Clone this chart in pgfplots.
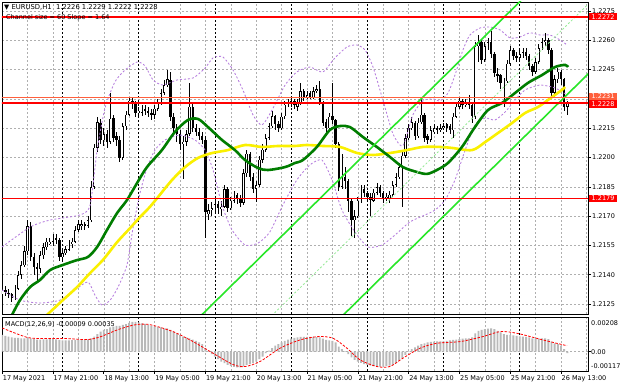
\documentclass[border=0pt]{standalone}
\usepackage{fontspec}
\setmainfont{DejaVu Sans}
\usepackage{pgfplots}
\usepackage{pgfplotstable}
\pgfplotsset{compat=1.18}
\definecolor{lnred}{RGB}{255,0,0}
\definecolor{lnorange}{RGB}{255,95,60}
\definecolor{madark}{RGB}{0,125,0}
\definecolor{mayellow}{RGB}{250,240,0}
\definecolor{chlime}{RGB}{40,230,40}
\definecolor{chmid}{RGB}{150,235,150}
\definecolor{bandv}{RGB}{182,125,222}
\definecolor{histg}{RGB}{185,185,185}
\definecolor{gridg}{RGB}{175,175,175}
\newcommand\lbl{\fontsize{6.5}{7}\selectfont}
\newcommand\ttl{\fontsize{6.8}{7.5}\selectfont}

\pgfplotstableread{
i o h l c
0 1.2130 1.2135 1.2128 1.2132
1 1.2132 1.2134 1.2129 1.2131
2 1.2131 1.2133 1.2128 1.2130
3 1.2130 1.2131 1.2126 1.2128
4 1.2128 1.2135 1.2127 1.2133
5 1.2133 1.2142 1.2132 1.2140
6 1.2140 1.2147 1.2138 1.2145
7 1.2145 1.2155 1.2144 1.2152
8 1.2152 1.2168 1.2150 1.2165
9 1.2165 1.2167 1.2147 1.2149
10 1.2149 1.2151 1.2140 1.2144
11 1.2144 1.2146 1.2137 1.2143
12 1.2143 1.2152 1.2141 1.2150
13 1.2150 1.2156 1.2148 1.2154
14 1.2154 1.2159 1.2153 1.2157
15 1.2156 1.2159 1.2155 1.2157
16 1.2157 1.2161 1.2155 1.2159
17 1.2159 1.2161 1.2156 1.2158
18 1.2158 1.2159 1.2147 1.2149
19 1.2149 1.2153 1.2147 1.2151
20 1.2151 1.2155 1.2150 1.2153
21 1.2153 1.2158 1.2152 1.2156
22 1.2156 1.2159 1.2154 1.2157
23 1.2157 1.2165 1.2156 1.2163
24 1.2163 1.2168 1.2162 1.2166
25 1.2165 1.2168 1.2163 1.2166
26 1.2166 1.2167 1.2163 1.2165
27 1.2165 1.2170 1.2164 1.2168
28 1.2168 1.2188 1.2167 1.2185
29 1.2185 1.2207 1.2184 1.2205
30 1.2205 1.2221 1.2203 1.2218
31 1.2218 1.2220 1.2207 1.2209
32 1.2209 1.2215 1.2206 1.2212
33 1.2212 1.2214 1.2205 1.2208
34 1.2208 1.2233 1.2207 1.2220
35 1.2220 1.2222 1.2208 1.2210
36 1.2211 1.2213 1.2206 1.2209
37 1.2209 1.2211 1.2198 1.2200
38 1.2200 1.2218 1.2199 1.2216
39 1.2216 1.2224 1.2214 1.2222
40 1.2222 1.2231 1.2221 1.2229
41 1.2229 1.2231 1.2225 1.2228
42 1.2228 1.2229 1.2221 1.2223
43 1.2223 1.2226 1.2221 1.2224
44 1.2223 1.2227 1.2221 1.2225
45 1.2225 1.2227 1.2222 1.2224
46 1.2224 1.2226 1.2221 1.2223
47 1.2223 1.2225 1.2219 1.2222
48 1.2222 1.2227 1.2220 1.2225
49 1.2225 1.2230 1.2224 1.2228
50 1.2228 1.2235 1.2227 1.2233
51 1.2233 1.2240 1.2232 1.2237
52 1.2237 1.2245 1.2236 1.2240
53 1.2240 1.2244 1.2219 1.2221
54 1.2221 1.2223 1.2213 1.2215
55 1.2215 1.2217 1.2208 1.2212
56 1.2212 1.2214 1.2204 1.2207
57 1.2207 1.2211 1.2189 1.2208
58 1.2208 1.2214 1.2206 1.2212
59 1.2212 1.2238 1.2211 1.2226
60 1.2226 1.2228 1.2213 1.2215
61 1.2215 1.2217 1.2211 1.2213
62 1.2213 1.2215 1.2209 1.2211
63 1.2211 1.2213 1.2207 1.2209
64 1.2209 1.2211 1.2159 1.2172
65 1.2171 1.2176 1.2168 1.2173
66 1.2173 1.2177 1.2170 1.2174
67 1.2174 1.2179 1.2172 1.2176
68 1.2176 1.2178 1.2171 1.2174
69 1.2174 1.2178 1.2170 1.2175
70 1.2175 1.2186 1.2174 1.2184
71 1.2184 1.2185 1.2172 1.2174
72 1.2174 1.2180 1.2173 1.2178
73 1.2178 1.2183 1.2177 1.2181
74 1.2181 1.2182 1.2176 1.2179
75 1.2179 1.2181 1.2175 1.2177
76 1.2177 1.2194 1.2176 1.2192
77 1.2192 1.2204 1.2190 1.2202
78 1.2202 1.2203 1.2188 1.2190
79 1.2190 1.2192 1.2182 1.2184
80 1.2184 1.2188 1.2177 1.2186
81 1.2186 1.2201 1.2185 1.2199
82 1.2199 1.2207 1.2197 1.2204
83 1.2204 1.2212 1.2203 1.2210
84 1.2210 1.2218 1.2209 1.2216
85 1.2216 1.2224 1.2215 1.2221
86 1.2221 1.2222 1.2214 1.2217
87 1.2217 1.2219 1.2213 1.2215
88 1.2215 1.2223 1.2214 1.2221
89 1.2221 1.2229 1.2220 1.2227
90 1.2227 1.2230 1.2226 1.2228
91 1.2228 1.2231 1.2226 1.2229
92 1.2229 1.2230 1.2225 1.2227
93 1.2226 1.2230 1.2224 1.2228
94 1.2228 1.2238 1.2227 1.2234
95 1.2234 1.2235 1.2229 1.2231
96 1.2231 1.2234 1.2230 1.2232
97 1.2233 1.2234 1.2230 1.2231
98 1.2231 1.2236 1.2230 1.2234
99 1.2234 1.2237 1.2233 1.2235
100 1.2235 1.2239 1.2227 1.2228
101 1.2228 1.2229 1.2216 1.2218
102 1.2218 1.2220 1.2212 1.2215
103 1.2215 1.2223 1.2214 1.2221
104 1.2221 1.2238 1.2217 1.2219
105 1.2219 1.2220 1.2205 1.2207
106 1.2207 1.2208 1.2183 1.2185
107 1.2185 1.2202 1.2184 1.2190
108 1.2190 1.2195 1.2184 1.2188
109 1.2188 1.2189 1.2172 1.2178
110 1.2178 1.2179 1.2160 1.2168
111 1.2168 1.2173 1.2159 1.2170
112 1.2170 1.2180 1.2169 1.2178
113 1.2178 1.2186 1.2177 1.2184
114 1.2184 1.2186 1.2180 1.2182
115 1.2182 1.2183 1.2178 1.2180
116 1.2180 1.2182 1.2170 1.2178
117 1.2178 1.2184 1.2177 1.2182
118 1.2182 1.2187 1.2181 1.2185
119 1.2185 1.2186 1.2180 1.2182
120 1.2182 1.2183 1.2177 1.2179
121 1.2179 1.2182 1.2178 1.2180
122 1.2179 1.2183 1.2177 1.2181
123 1.2181 1.2188 1.2180 1.2186
124 1.2186 1.2192 1.2185 1.2190
125 1.2190 1.2197 1.2189 1.2195
126 1.2195 1.2203 1.2175 1.2201
127 1.2201 1.2212 1.2200 1.2210
128 1.2210 1.2217 1.2209 1.2215
129 1.2215 1.2221 1.2214 1.2218
130 1.2218 1.2219 1.2209 1.2211
131 1.2211 1.2220 1.2210 1.2218
132 1.2218 1.2230 1.2217 1.2222
133 1.2222 1.2223 1.2208 1.2210
134 1.2211 1.2212 1.2207 1.2209
135 1.2209 1.2216 1.2208 1.2214
136 1.2213 1.2217 1.2212 1.2215
137 1.2215 1.2216 1.2212 1.2214
138 1.2214 1.2217 1.2213 1.2215
139 1.2215 1.2218 1.2214 1.2216
140 1.2217 1.2218 1.2213 1.2215
141 1.2216 1.2217 1.2212 1.2214
142 1.2214 1.2223 1.2210 1.2221
143 1.2221 1.2228 1.2220 1.2226
144 1.2226 1.2231 1.2225 1.2229
145 1.2229 1.2230 1.2225 1.2227
146 1.2227 1.2230 1.2226 1.2228
147 1.2228 1.2232 1.2225 1.2227
148 1.2227 1.2228 1.2218 1.2221
149 1.2221 1.2259 1.2220 1.2257
150 1.2257 1.2263 1.2249 1.2259
151 1.2259 1.2260 1.2248 1.2250
152 1.2250 1.2259 1.2249 1.2257
153 1.2257 1.2261 1.2255 1.2259
154 1.2259 1.2265 1.2251 1.2253
155 1.2253 1.2254 1.2241 1.2243
156 1.2243 1.2246 1.2239 1.2242
157 1.2242 1.2243 1.2235 1.2238
158 1.2237 1.2241 1.2226 1.2239
159 1.2239 1.2250 1.2238 1.2248
160 1.2248 1.2257 1.2247 1.2255
161 1.2255 1.2256 1.2250 1.2252
162 1.2252 1.2254 1.2249 1.2251
163 1.2251 1.2255 1.2250 1.2253
164 1.2253 1.2256 1.2251 1.2254
165 1.2254 1.2256 1.2250 1.2252
166 1.2252 1.2253 1.2245 1.2247
167 1.2247 1.2248 1.2242 1.2244
168 1.2244 1.2251 1.2243 1.2249
169 1.2249 1.2258 1.2248 1.2256
170 1.2256 1.2261 1.2255 1.2259
171 1.2259 1.2264 1.2257 1.2260
172 1.2260 1.2261 1.2253 1.2255
173 1.2255 1.2256 1.2231 1.2233
174 1.2233 1.2242 1.2231 1.2240
175 1.2240 1.2246 1.2238 1.2244
176 1.2244 1.2245 1.2237 1.2240
177 1.2240 1.2241 1.2224 1.2226
178 1.2226 1.2229 1.2222 1.2228
}\candles

\pgfplotstableread{
i v
0 0.00100
1 0.00095
2 0.00090
3 0.00086
4 0.00083
5 0.00082
6 0.00080
7 0.00080
8 0.00082
9 0.00080
10 0.00076
11 0.00072
12 0.00072
13 0.00073
14 0.00074
15 0.00075
16 0.00075
17 0.00074
18 0.00070
19 0.00068
20 0.00068
21 0.00068
22 0.00069
23 0.00070
24 0.00072
25 0.00072
26 0.00072
27 0.00073
28 0.00080
29 0.00090
30 0.00105
31 0.00120
32 0.00130
33 0.00135
34 0.00145
35 0.00150
36 0.00155
37 0.00155
38 0.00160
39 0.00165
40 0.00172
41 0.00178
42 0.00178
43 0.00175
44 0.00170
45 0.00166
46 0.00160
47 0.00155
48 0.00150
49 0.00148
50 0.00145
51 0.00140
52 0.00140
53 0.00130
54 0.00120
55 0.00110
56 0.00100
57 0.00090
58 0.00085
59 0.00080
60 0.00072
61 0.00065
62 0.00055
63 0.00045
64 0.00020
65 0.00002
66 -0.00015
67 -0.00030
68 -0.00045
69 -0.00060
70 -0.00070
71 -0.00080
72 -0.00088
73 -0.00092
74 -0.00095
75 -0.00095
76 -0.00090
77 -0.00080
78 -0.00075
79 -0.00070
80 -0.00060
81 -0.00045
82 -0.00030
83 -0.00010
84 0.00005
85 0.00020
86 0.00035
87 0.00045
88 0.00055
89 0.00065
90 0.00072
91 0.00078
92 0.00082
93 0.00085
94 0.00088
95 0.00088
96 0.00088
97 0.00088
98 0.00088
99 0.00087
100 0.00085
101 0.00078
102 0.00070
103 0.00068
104 0.00065
105 0.00055
106 0.00030
107 0.00015
108 0.00002
109 -0.00015
110 -0.00035
111 -0.00050
112 -0.00060
113 -0.00068
114 -0.00075
115 -0.00080
116 -0.00085
117 -0.00088
118 -0.00090
119 -0.00090
120 -0.00090
121 -0.00088
122 -0.00085
123 -0.00080
124 -0.00070
125 -0.00055
126 -0.00040
127 -0.00020
128 0.00002
129 0.00015
130 0.00025
131 0.00035
132 0.00045
133 0.00050
134 0.00055
135 0.00058
136 0.00060
137 0.00062
138 0.00062
139 0.00063
140 0.00065
141 0.00068
142 0.00070
143 0.00072
144 0.00075
145 0.00078
146 0.00080
147 0.00080
148 0.00085
149 0.00110
150 0.00125
151 0.00130
152 0.00135
153 0.00138
154 0.00140
155 0.00135
156 0.00125
157 0.00115
158 0.00105
159 0.00100
160 0.00100
161 0.00098
162 0.00095
163 0.00092
164 0.00090
165 0.00088
166 0.00085
167 0.00080
168 0.00078
169 0.00078
170 0.00080
171 0.00080
172 0.00075
173 0.00060
174 0.00050
175 0.00045
176 0.00035
177 0.00015
178 -0.00009
}\macdhist

\begin{document}
\begin{tikzpicture}
\useasboundingbox (0,0) rectangle (620pt,388pt);
\fill[white] (0,0) rectangle (620pt,388pt);
% ---------------- main price panel ----------------
\begin{axis}[
  at={(2pt,74pt)}, anchor=south west, scale only axis,
  width=586pt, height=312pt,
  xmin=-0.06, xmax=184.5, ymin=1.21199, ymax=1.22796,
  axis line style={black, line width=0.8pt},
  xtick={0,8,...,184}, xticklabels={}, xtick style={draw=none},
  extra x ticks={19,43,67,91,115,139,163}, extra x tick labels={},
  extra x tick style={xmajorgrids=true, major grid style={black, dash pattern=on 2pt off 2pt, line width=0.6pt}, tick style={draw=none}},
  ytick={1.2125,1.2140,1.2155,1.2170,1.2185,1.2200,1.2215,1.2230,1.2245,1.2260,1.2275},
  yticklabels={1.2125,1.2140,1.2155,1.2170,1.2185,1.2200,1.2215,,1.2245,1.2260,1.2275},
  scaled y ticks=false,
  ytick pos=right, yticklabel pos=right, tick align=outside, major tick length=3pt,
  ytick style={black, line width=0.6pt},
  yticklabel style={font=\lbl, anchor=west, inner sep=0pt, xshift=1pt},
  xmajorgrids, ymajorgrids,
  major grid style={gridg, dash pattern=on 2pt off 2pt, line width=0.5pt},
  clip=true,
]
% candle wicks
\addplot[forget plot, draw=none, mark=none, error bars/.cd, y dir=both, y explicit, error mark=none,
  error bar style={draw=black, line width=0.7pt}]
  table[x=i, y expr={(\thisrow{h}+\thisrow{l})/2}, y error expr={(\thisrow{h}-\thisrow{l})/2}] {\candles};
% candle bodies (outline / bearish fill)
\addplot[forget plot, draw=none, mark=none, error bars/.cd, y dir=both, y explicit, error mark=none,
  error bar style={draw=black, line width=2.4pt, line cap=butt}]
  table[x=i, y expr={(\thisrow{o}+\thisrow{c})/2}, y error expr={abs(\thisrow{c}-\thisrow{o})/2}] {\candles};
% bullish bodies: white inside
\addplot[forget plot, draw=none, mark=none, error bars/.cd, y dir=both, y explicit, error mark=none,
  error bar style={draw=white, line width=1.0pt, line cap=butt}]
  table[x=i, y expr={(\thisrow{o}+\thisrow{c})/2}, y error expr={max(0,(\thisrow{c}-\thisrow{o})/2-0.00003)}] {\candles};
% Bollinger bands
\addplot[bandv, line width=0.85pt, dash pattern=on 2pt off 2pt, smooth, tension=0.4] coordinates {
(-0.06,1.21542) (8.8,1.21644) (15.1,1.21680) (24.5,1.21706) (27.7,1.21757) (29.9,1.22038) (32.4,1.22254) (35.5,1.22387) (38.7,1.22448) (42.5,1.22489) (45.0,1.22469) (47.5,1.22397) (50.6,1.22371) (55.1,1.22397) (60.1,1.22407) (63.9,1.22458) (66.4,1.22510) (69.5,1.22515) (72.7,1.22448) (75.8,1.22346) (79.0,1.22218) (81.8,1.22166) (85.0,1.22243) (89.1,1.22371) (92.8,1.22438) (96.9,1.22463) (101.0,1.22438) (104.8,1.22510) (108.6,1.22566) (111.7,1.22576) (114.3,1.22550) (116.8,1.22463) (119.9,1.22294) (123.1,1.22120) (126.2,1.22060) (129.4,1.22220) (132.5,1.22290) (135.7,1.22300) (137.9,1.22290) (140.4,1.22330) (142.6,1.22422) (145.1,1.22550) (147.3,1.22627) (150.5,1.22663) (153.6,1.22668) (156.8,1.22653) (159.9,1.22612) (163.1,1.22617) (166.2,1.22638) (169.4,1.22627) (172.5,1.22627) (175.7,1.22602) (177.9,1.22576)};
\addplot[bandv, line width=0.85pt, dash pattern=on 2pt off 2pt, smooth, tension=0.4] coordinates {
(-0.06,1.21322) (5.6,1.21270) (11.9,1.21255) (18.2,1.21270) (22.9,1.21322) (27.0,1.21363) (29.2,1.21296) (31.4,1.21245) (34.0,1.21270) (36.5,1.21337) (39.3,1.21450) (41.2,1.21639) (43.4,1.21818) (45.6,1.21946) (48.1,1.22038) (51.3,1.22090) (56.0,1.22115) (60.7,1.22090) (63.9,1.22038) (66.4,1.21936) (69.2,1.21757) (72.4,1.21629) (76.5,1.21552) (80.6,1.21562) (84.3,1.21619) (88.4,1.21757) (92.8,1.21885) (96.9,1.21962) (100.7,1.21987) (103.9,1.21885) (107.0,1.21731) (111.1,1.21619) (115.2,1.21542) (119.6,1.21552) (123.7,1.21603) (128.4,1.21670) (133.2,1.21706) (136.3,1.21731) (139.5,1.21782) (142.6,1.21885) (145.8,1.22038) (148.9,1.22166) (152.1,1.22202) (155.2,1.22192) (158.4,1.22233) (161.5,1.22294) (164.7,1.22346) (169.4,1.22371) (174.1,1.22356) (177.9,1.22320)};
% moving averages
\addplot[mayellow, line width=2.6pt, smooth, tension=0.5] coordinates {
(14.1,1.21194) (19.1,1.21270) (23.6,1.21337) (27.7,1.21409) (31.7,1.21475) (36.2,1.21567) (40.3,1.21639) (43.4,1.21695) (46.5,1.21747) (49.1,1.21798) (53.5,1.21885) (57.6,1.21951) (61.7,1.21998) (66.1,1.22023) (71.1,1.22038) (76.5,1.22064) (81.8,1.22054) (86.9,1.22059) (92.2,1.22059) (96.0,1.22064) (101.0,1.22059) (106.4,1.22054) (111.8,1.22023) (116.8,1.22013) (122.1,1.22023) (127.5,1.22038) (132.5,1.22054) (137.9,1.22054) (141.7,1.22049) (148.0,1.22038) (152.1,1.22079) (156.2,1.22126) (160.6,1.22177) (164.7,1.22228) (168.8,1.22259) (173.2,1.22310) (176.3,1.22346) (177.3,1.22361)};
\addplot[madark, line width=2.6pt, smooth, tension=0.5] coordinates {
(3.1,1.21194) (5.6,1.21270) (8.8,1.21337) (11.9,1.21373) (15.1,1.21424) (19.1,1.21450) (23.6,1.21475) (27.0,1.21491) (29.9,1.21542) (33.0,1.21629) (36.2,1.21716) (39.3,1.21782) (42.5,1.21870) (45.6,1.21951) (50.3,1.22038) (54.4,1.22131) (58.5,1.22192) (61.7,1.22197) (64.8,1.22156) (69.2,1.22090) (73.3,1.22038) (76.5,1.21987) (80.6,1.21946) (83.7,1.21936) (89.1,1.21951) (92.2,1.21972) (94.7,1.21987) (99.1,1.22054) (103.2,1.22141) (106.4,1.22161) (109.5,1.22156) (113.6,1.22105) (118.0,1.22054) (122.1,1.22003) (126.2,1.21951) (130.6,1.21926) (133.8,1.21916) (136.9,1.21936) (140.4,1.21972) (144.8,1.22054) (148.9,1.22156) (153.0,1.22243) (157.4,1.22279) (161.5,1.22330) (165.6,1.22382) (170.0,1.22422) (174.1,1.22463) (177.3,1.22474) (178.2,1.22463)};
% regression channel
\addplot[chlime, line width=1.6pt] coordinates {(40,1.20829) (190,1.23229)};
\addplot[chlime, line width=1.6pt] coordinates {(40,1.20115) (190,1.22515)};
\addplot[chmid, line width=0.8pt, dash pattern=on 2pt off 2pt] coordinates {(40,1.20472) (190,1.22872)};
% horizontal levels
\addplot[lnred, line width=1.8pt] coordinates {(-1,1.2272) (190,1.2272)};
\addplot[lnorange, line width=0.8pt] coordinates {(-1,1.2231) (190,1.2231)};
\addplot[lnred, line width=1.8pt] coordinates {(-1,1.2228) (190,1.2228)};
\addplot[lnred, line width=1.8pt] coordinates {(-1,1.2179) (190,1.2179)};
\coordinate (L2272) at (axis cs:184.5,1.2272);
\coordinate (L2231) at (axis cs:184.5,1.2231);
\coordinate (L2228) at (axis cs:184.5,1.2228);
\coordinate (L2179) at (axis cs:184.5,1.2179);
\end{axis}
% ---------------- MACD panel ----------------
\begin{axis}[
  at={(2pt,17pt)}, anchor=south west, scale only axis,
  width=586pt, height=54pt,
  xmin=-0.06, xmax=184.5, ymin=-0.00117, ymax=0.00208,
  axis line style={black, line width=0.8pt},
  xtick={0,16,...,176},
  xticklabels={17 May 2021,17 May 21:00,18 May 13:00,19 May 05:00,19 May 21:00,20 May 13:00,21 May 05:00,21 May 21:00,24 May 13:00,25 May 05:00,25 May 21:00,26 May 13:00},
  minor xtick={8,24,...,184},
  xtick pos=bottom, tick align=outside, major tick length=2.5pt, minor tick length=0pt,
  xtick style={black, line width=0.6pt},
  xticklabel style={font=\lbl, anchor=north west, inner sep=0pt, xshift=0.5pt, yshift=-1.5pt},
  extra x ticks={19,43,67,91,115,139,163}, extra x tick labels={},
  extra x tick style={xmajorgrids=true, major grid style={black, dash pattern=on 2pt off 2pt, line width=0.6pt}, tick style={draw=none}},
  ytick={0}, yticklabels={}, ytick pos=right, ytick style={black, line width=0.6pt},
  scaled y ticks=false,
  xmajorgrids, xminorgrids, ymajorgrids,
  major grid style={gridg, dash pattern=on 2pt off 2pt, line width=0.5pt},
  minor grid style={gridg, dash pattern=on 2pt off 2pt, line width=0.5pt},
]
\addplot[ybar, bar width=1.9pt, bar shift=0pt, fill=histg, draw=none] table[x=i, y=v] {\macdhist};
\addplot[lnred, line width=0.8pt, dash pattern=on 2.5pt off 1.5pt, smooth, tension=0.5] coordinates {
(0,0.00142) (5.6,0.00100) (9.7,0.00080) (20.4,0.00078) (26.7,0.00072) (30.8,0.00088) (36.2,0.00130) (41.0,0.00158) (44.0,0.00165) (47.0,0.00160) (53.8,0.00120) (60.1,0.00060) (66.4,-0.00010) (72.7,-0.00078) (76.5,-0.00090) (81.2,-0.00060) (87.5,0.00020) (93.8,0.00070) (99.5,0.00090) (104.2,0.00080) (108.6,0.00020) (112.7,-0.00050) (118.0,-0.00090) (122.1,-0.00090) (126.2,-0.00040) (131.6,0.00020) (136.9,0.00050) (144.2,0.00060) (151.4,0.00090) (156.8,0.00120) (162.1,0.00110) (170.3,0.00070) (177.9,0.00035)};
\end{axis}
% ---------------- texts ----------------
\node[font=\ttl, anchor=west, inner sep=0pt] at (4pt,381pt) {▼ EURUSD,H1\ \ 1.2226 1.2229 1.2222 1.2228};
\node[font=\lbl, anchor=west, inner sep=0pt] at (6pt,370pt) {Channel size = 60 Slope = 1.64};
\node[font=\lbl, anchor=west, inner sep=0pt] at (5pt,64pt) {MACD(12,26,9) -0.00009 0.00035};
\node[font=\lbl, anchor=west, inner sep=0pt] at (591pt,65pt) {0.00208};
\node[font=\lbl, anchor=west, inner sep=0pt] at (591pt,36pt) {0.00};
\node[font=\lbl, anchor=west, inner sep=0pt] at (591pt,22pt) {-0.00117};
\tikzset{pricebox/.style={font=\lbl, anchor=west, text=white, inner xsep=2.5pt, inner ysep=1.2pt, xshift=1pt}}
\node[pricebox, fill=lnred] at (L2272) {1.2272};
\node[pricebox, fill=lnorange] at ([yshift=0.6pt]L2231) {1.2231};
\node[pricebox, fill=lnred] at ([yshift=-1.2pt]L2228) {1.2228};
\node[pricebox, fill=lnred] at (L2179) {1.2179};
\end{tikzpicture}
\end{document}
